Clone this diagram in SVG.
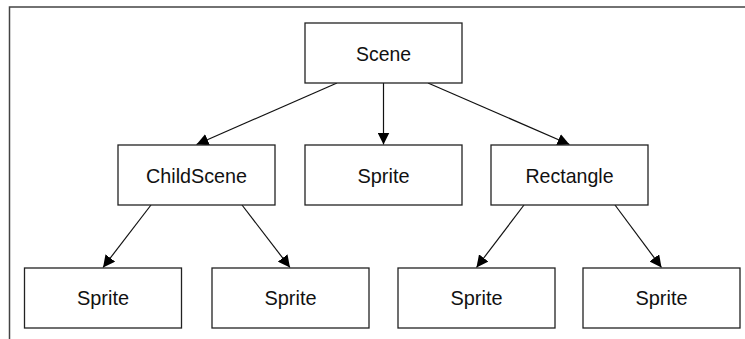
<svg xmlns="http://www.w3.org/2000/svg" width="745" height="339" viewBox="0 0 745 339">
<style>
.box{fill:#fff;stroke:#222;stroke-width:1.3}
.lbl{font-family:"Liberation Sans",Arial,sans-serif;font-size:21px;fill:#111;text-anchor:middle}
.edge{stroke:#111;stroke-width:1.2;fill:none;marker-end:url(#arr)}
.frame{stroke:#444;stroke-width:1.5;fill:none}
</style>
<defs>
<marker id="arr" viewBox="0 0 12 12" refX="12" refY="6" markerWidth="12" markerHeight="12" markerUnits="userSpaceOnUse" orient="auto">
<path d="M0,0 L12,6 L0,12 z" fill="#000"/>
</marker>
</defs>
<rect width="745" height="339" fill="#fff"/>
<path class="frame" d="M9.5,339 V7 H745"/>
<g id="connectors">
<line class="edge" x1="337" y1="83" x2="196.5" y2="144.5"/>
<line class="edge" x1="383.5" y1="83" x2="383.5" y2="144.5"/>
<line class="edge" x1="428" y1="83" x2="569.5" y2="144.5"/>
<line class="edge" x1="151" y1="205" x2="103" y2="267.5"/>
<line class="edge" x1="242" y1="205" x2="290" y2="267.5"/>
<line class="edge" x1="524" y1="205" x2="476.5" y2="267.5"/>
<line class="edge" x1="615" y1="205" x2="661.5" y2="267.5"/>
</g>
<g id="scene"><rect class="box" x="305" y="23" width="157" height="60"/><text class="lbl" x="383.5" y="60.5" textLength="55" lengthAdjust="spacingAndGlyphs">Scene</text></g>
<g id="childscene"><rect class="box" x="118" y="145" width="157" height="60"/><text class="lbl" x="196.5" y="183" textLength="101" lengthAdjust="spacingAndGlyphs">ChildScene</text></g>
<g id="sprite-mid"><rect class="box" x="305" y="145" width="157" height="60"/><text class="lbl" x="383.5" y="183" textLength="52" lengthAdjust="spacingAndGlyphs">Sprite</text></g>
<g id="rectangle"><rect class="box" x="491" y="145" width="157" height="60"/><text class="lbl" x="569.5" y="183" textLength="88" lengthAdjust="spacingAndGlyphs">Rectangle</text></g>
<g id="sprite1"><rect class="box" x="24.5" y="268" width="157" height="60"/><text class="lbl" x="103" y="305" textLength="52" lengthAdjust="spacingAndGlyphs">Sprite</text></g>
<g id="sprite2"><rect class="box" x="212" y="268" width="157" height="60"/><text class="lbl" x="290.5" y="305" textLength="52" lengthAdjust="spacingAndGlyphs">Sprite</text></g>
<g id="sprite3"><rect class="box" x="398" y="268" width="157" height="60"/><text class="lbl" x="476.5" y="305" textLength="52" lengthAdjust="spacingAndGlyphs">Sprite</text></g>
<g id="sprite4"><rect class="box" x="583" y="268" width="157" height="60"/><text class="lbl" x="661.5" y="305" textLength="52" lengthAdjust="spacingAndGlyphs">Sprite</text></g>
</svg>
